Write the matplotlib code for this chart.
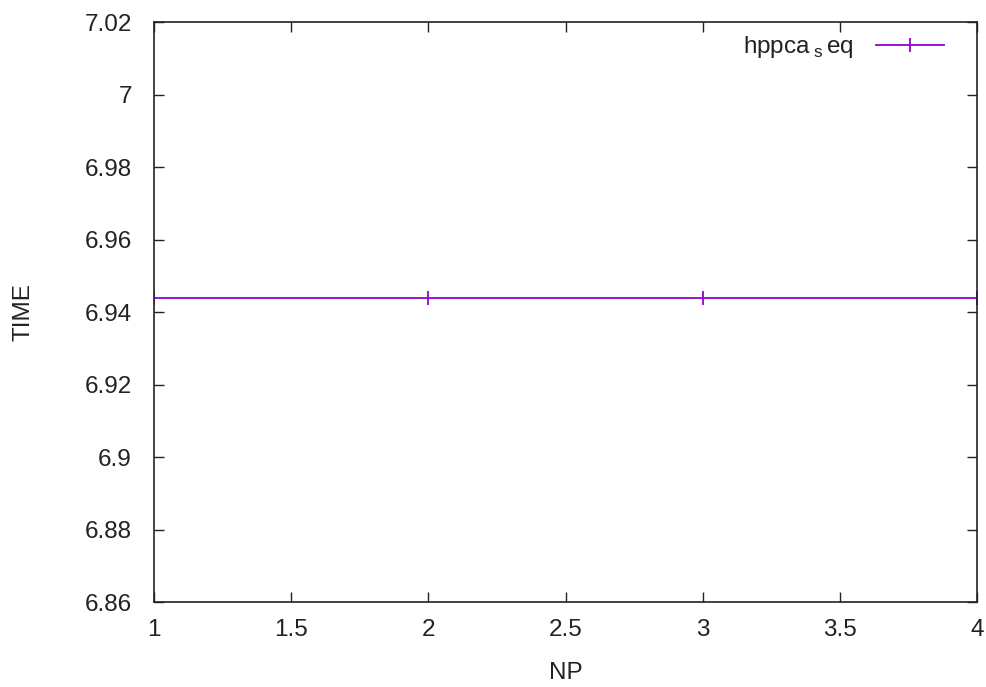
import matplotlib
matplotlib.use("Agg")
import matplotlib.pyplot as plt

# data
np_values = [1, 2, 3, 4]
times = [6.944, 6.944, 6.944, 6.944]
series_label = r"hppca$\,_{\rm s}\,$eq"

x_ticks = [1, 1.5, 2, 2.5, 3, 3.5, 4]
x_tick_labels = ["1", "1.5", "2", "2.5", "3", "3.5", "4"]
y_ticks = [6.86, 6.88, 6.9, 6.92, 6.94, 6.96, 6.98, 7.0, 7.02]
y_tick_labels = ["6.86", "6.88", "6.9", "6.92", "6.94", "6.96", "6.98", "7", "7.02"]

plt.rcParams['font.family'] = ['Liberation Sans', 'DejaVu Sans']
plt.rcParams['mathtext.fontset'] = 'custom'
plt.rcParams['mathtext.rm'] = 'Liberation Sans'

fig = plt.figure(figsize=(9.86, 6.87), dpi=100)
ax = fig.add_axes([154 / 986, 1 - 602 / 687, (977 - 154) / 986, (602 - 22) / 687])

ax.plot(np_values, times, color='#9400d3', linewidth=1.3, marker='|',
        markersize=10, markeredgewidth=1.3, label=series_label)

ax.set_xlim(1, 4)
ax.set_ylim(6.86, 7.02)
ax.set_xticks(x_ticks)
ax.set_xticklabels(x_tick_labels)
ax.set_yticks(y_ticks)
ax.set_yticklabels(y_tick_labels)
ax.tick_params(direction='in', length=7, width=1, top=True, right=True,
               labelsize=17.5, colors='#222222')
ax.tick_params(axis='x', pad=12)
ax.tick_params(axis='y', pad=16)
for s in ax.spines.values():
    s.set_color('#222222')
    s.set_linewidth(1.2)

ax.set_xlabel("NP", fontsize=17.5, color='#222222', va='center')
ax.xaxis.set_label_coords(0.5, -0.1224)
ax.set_ylabel("TIME", fontsize=17.5, color='#222222', va='center')
ax.yaxis.set_label_coords(-0.158, 0.5)

leg = ax.legend(loc='upper right', frameon=False, fontsize=17.5, markerfirst=False,
                handlelength=2.8, handletextpad=0.9, borderaxespad=0.2,
                borderpad=0.3, bbox_to_anchor=(1 - 21 / 823, 1))
for t in leg.get_texts():
    t.set_color('#222222')

fig.savefig("out.png", dpi=100)
